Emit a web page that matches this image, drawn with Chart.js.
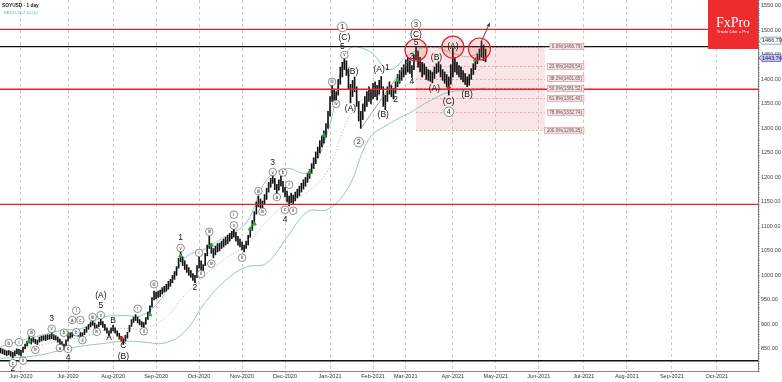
<!DOCTYPE html>
<html>
<head>
<meta charset="utf-8">
<script src="https://cdn.jsdelivr.net/npm/chart.js@4.4.1/dist/chart.umd.min.js"></script>
<style>
  html, body { margin: 0; padding: 0; background: #fff; }
  #chart { display: block; }
</style>
</head>
<body>
<canvas id="chart" width="782" height="382"></canvas>
<script>
// SOYUSD daily bars, late May 2020 - Apr 2021 (index = trading day)
const lows = [
  842, 840, 838, 836, 838, 835, 832, 836, 840, 838,
  836, 843, 850, 856, 862, 860, 864, 861, 859, 864,
  866, 868, 867, 869, 870, 871, 869, 868, 864, 858,
  853, 849, 856, 866, 872, 874, 878, 880, 876, 872,
  873, 879, 884, 890, 895, 898, 892, 889, 895, 899,
  894, 888, 882, 876, 882, 887, 882, 876, 870, 866,
  859, 866, 872, 885, 896, 904, 908, 903, 899, 895,
  893, 900, 910, 920, 935, 950, 952, 955, 957, 962,
  966, 968, 972, 978, 985, 992, 1000, 1015, 1028, 1020,
  1012, 1006, 1000, 996, 990, 985, 996, 1015, 1010, 1005,
  1020, 1040, 1055, 1045, 1036, 1042, 1048, 1050, 1055, 1058,
  1062, 1065, 1070, 1075, 1078, 1070, 1062, 1058, 1052, 1048,
  1055, 1062, 1078, 1092, 1108, 1125, 1140, 1138, 1136, 1145,
  1155, 1170, 1180, 1188, 1175, 1166, 1174, 1182, 1170, 1160,
  1150, 1142, 1148, 1146, 1152, 1158, 1162, 1170, 1176, 1182,
  1190, 1198, 1208, 1218, 1228, 1240, 1250, 1262, 1270, 1282,
  1300, 1325, 1355, 1350, 1355, 1368, 1390, 1405, 1420, 1408,
  1380, 1352, 1365, 1375, 1345, 1315, 1300, 1318, 1335, 1345,
  1355, 1350, 1360, 1365, 1358, 1370, 1380, 1345, 1338, 1355,
  1370, 1365, 1360, 1372, 1385, 1392, 1398, 1405, 1410, 1415,
  1412, 1404, 1420, 1440, 1425, 1415, 1405, 1410, 1400, 1398,
  1396, 1393, 1402, 1412, 1415, 1405, 1398, 1392, 1385, 1368,
  1390, 1405, 1415, 1410, 1405, 1400, 1395, 1390, 1385, 1388,
  1400, 1410, 1420, 1432, 1440, 1445, 1438, 1436
];
const highs = [
  852, 850, 848, 846, 847, 845, 843, 846, 850, 849,
  847, 854, 860, 866, 875, 871, 873, 870, 868, 874,
  876, 877, 878, 879, 879, 882, 879, 877, 874, 870,
  865, 860, 868, 880, 883, 884, 888, 891, 887, 884,
  883, 890, 895, 900, 905, 908, 903, 899, 905, 911,
  906, 900, 893, 887, 893, 898, 893, 887, 882, 876,
  871, 878, 884, 898, 910, 915, 920, 915, 910, 906,
  904, 914, 925, 938, 955, 968, 966, 968, 970, 975,
  978, 982, 988, 992, 1000, 1008, 1018, 1035, 1048, 1038,
  1030, 1022, 1016, 1010, 1004, 1000, 1020, 1038, 1030, 1022,
  1045, 1062, 1080, 1065, 1055, 1060, 1065, 1066, 1070, 1074,
  1078, 1082, 1086, 1090, 1095, 1088, 1080, 1074, 1068, 1062,
  1070, 1082, 1098, 1112, 1130, 1150, 1162, 1156, 1152, 1165,
  1178, 1190, 1198, 1206, 1198, 1186, 1195, 1202, 1192, 1180,
  1172, 1162, 1168, 1164, 1170, 1176, 1182, 1188, 1195, 1200,
  1208, 1216, 1228, 1240, 1252, 1262, 1275, 1285, 1295, 1310,
  1335, 1365, 1390, 1380, 1375, 1400, 1425, 1435, 1445, 1438,
  1420, 1390, 1398, 1405, 1385, 1355, 1335, 1350, 1365, 1375,
  1385, 1378, 1392, 1395, 1388, 1398, 1406, 1385, 1368, 1385,
  1395, 1388, 1382, 1395, 1410, 1418, 1424, 1430, 1440, 1445,
  1438, 1428, 1450, 1466.79, 1458, 1445, 1435, 1432, 1425, 1420,
  1418, 1415, 1425, 1432, 1436, 1430, 1420, 1415, 1410, 1405,
  1430, 1464, 1445, 1435, 1428, 1425, 1418, 1412, 1405, 1410,
  1422, 1432, 1442, 1452, 1462, 1478, 1470, 1462
];

// Bollinger band (20, 2.0) read at sample bars
const bbBars   = [0, 10, 20, 30, 40, 50, 60, 70, 80, 90, 100, 110, 120, 130, 140, 150, 160, 170, 180, 190, 200, 210, 220, 230, 237];
const bbUpper  = [855, 867, 878, 888, 892, 915, 918, 920, 962, 1035, 1055, 1080, 1107, 1195, 1218, 1210, 1295, 1460, 1458, 1420, 1452, 1467, 1455, 1447, 1473];
const bbMiddle = [843, 850, 858, 868, 874, 888, 892, 892, 912, 960, 1000, 1035, 1062, 1110, 1148, 1170, 1215, 1320, 1368, 1365, 1392, 1412, 1415, 1412, 1428];
const bbLower  = [831, 833, 838, 848, 856, 861, 866, 864, 862, 885, 945, 990, 1017, 1025, 1078, 1130, 1135, 1180, 1278, 1310, 1332, 1357, 1375, 1377, 1383];

// x axis: month labels and the bar where each month starts
const monthLabels = ['Jun-2020', 'Jul-2020', 'Aug-2020', 'Sep-2020', 'Oct-2020', 'Nov-2020', 'Dec-2020',
  'Jan-2021', 'Feb-2021', 'Mar-2021', 'Apr-2021', 'May-2021', 'Jun-2021', 'Jul-2021', 'Aug-2021', 'Sep-2021', 'Oct-2021'];
const monthBars = [10, 33, 55, 76, 97, 118, 139, 161, 182, 198, 221, 242, 263, 285, 306, 328, 350];

// horizontal levels
const redLevels = [1502, 1380, 1145];
const blackLevels = [1466.79, 826];

// fibonacci retracement
const fibNames  = ['0.0%', '23.6%', '38.2%', '50.0%', '61.8%', '78.6%', '100.0%'];
const fibValues = [1466.79, 1426.54, 1401.65, 1381.52, 1361.40, 1332.74, 1296.25];
const fibFrom = 203, fibTo = 266;

const lastPrice = 1443.74;

// buy / sell signal arrows [bar, price]
const buySignals  = [[14, 866], [33, 880], [73, 920], [88, 1040], [103, 1062], [122, 1095], [124, 1105], [151, 1210], [158, 1286], [194, 1398], [232, 1440]];
const sellSignals = [[59, 872], [219, 1382]];

// wave labels [bar, price, text, kind]  kind: n = plain, r = small circle, c = circled digit
const waveLabels = [
  [6, 809, '2', 'n'], [6, 821, 'c', 'r'], [11, 826, 'ii', 'r'], [4, 862, 'b', 'r'], [9, 864, 'i', 'r'],
  [15, 883, 'iii', 'r'], [17, 848, 'iv', 'r'], [25, 891, 'v', 'r'], [25, 911, '3', 'n'],
  [31, 883, 'b', 'r'], [29, 852, 'a', 'r'], [33, 850, 'c', 'r'], [33, 832, '4', 'n'],
  [35, 909, 'a', 'r'], [39, 909, 'c', 'r'], [37, 884, 'b', 'r'], [37, 928, 'i', 'r'],
  [40, 868, 'ii', 'r'], [45, 915, 'iii', 'r'], [47, 885, 'iv', 'r'], [49, 919, 'v', 'r'],
  [49, 939, '5', 'n'], [49, 958, '(A)', 'n'], [55, 907, 'B', 'n'], [53, 874, 'A', 'n'],
  [60, 856, 'C', 'n'], [60, 834, '(B)', 'n'], [67, 932, 'i', 'r'], [70, 886, 'ii', 'r'],
  [75, 982, 'iii', 'r'], [88, 1056, 'v', 'r'], [88, 1077, '1', 'n'], [97, 1046, 'i', 'r'],
  [98, 1003, 'ii', 'r'], [95, 975, '2', 'n'], [102, 1089, 'iii', 'r'], [103, 1024, 'iv', 'r'],
  [114, 1102, 'v', 'r'], [114, 1124, 'i', 'r'], [118, 1036, 'ii', 'r'], [126, 1172, 'iii', 'r'],
  [128, 1130, 'iv', 'r'], [133, 1211, 'v', 'r'], [133, 1230, '3', 'n'], [138, 1210, 'b', 'r'],
  [135, 1160, 'a', 'r'], [141, 1185, 'i', 'r'], [139, 1134, 'c', 'r'], [143, 1132, 'ii', 'r'],
  [139, 1113, '4', 'n'], [162, 1395, 'iii', 'r'], [164, 1350, 'iv', 'r'], [168, 1450, 'v', 'r'],
  [167, 1466, '5', 'n'], [168, 1486, '(C)', 'n'], [167, 1507, '1', 'c'], [172, 1415, '(B)', 'n'],
  [171, 1340, '(A)', 'n'], [175, 1272, '2', 'c'], [185, 1419, '(A)', 'n'], [189, 1424, '1', 'n'],
  [187, 1328, '(B)', 'n'], [193, 1358, '2', 'n'], [201, 1446, '3', 'n'], [201, 1395, '4', 'n'],
  [203, 1474, '5', 'n'], [203, 1491, '(C)', 'n'], [203, 1512, '3', 'c'], [213, 1444, '(B)', 'n'],
  [212, 1381, '(A)', 'n'], [221, 1467, '(A)', 'n'], [219, 1354, '(C)', 'n'], [219, 1334, '4', 'c'],
  [228, 1368, '(B)', 'n']
];

// red circles at the three tops [bar, price]
const topCircles = [[203, 1460], [221, 1466], [234, 1462]];
const trendLine = [[176, 1300], [201, 1448]];
const projection = [[235, 1478], [239, 1515]];

const bars = highs.map((h, i) => ({ x: i, y: [lows[i], h] }));
const toPoints = vals => bbBars.map((b, i) => ({ x: b, y: vals[i] }));

const overlay = {
  id: 'overlay',
  beforeDatasetsDraw(chart) {
    const { ctx, scales: { x, y } } = chart;
    const x0 = x.getPixelForValue(fibFrom), x1 = x.getPixelForValue(fibTo);
    const y0 = y.getPixelForValue(fibValues[0]);
    const y1 = y.getPixelForValue(fibValues[fibValues.length - 1]);
    ctx.save();
    ctx.fillStyle = 'rgba(238, 165, 165, 0.28)';
    ctx.fillRect(x0, y0, x1 - x0, y1 - y0);
    ctx.strokeStyle = 'rgba(215, 95, 95, 0.75)';
    ctx.lineWidth = 0.6;
    ctx.setLineDash([2, 2]);
    fibValues.forEach(v => {
      const py = Math.round(y.getPixelForValue(v)) + 0.5;
      ctx.beginPath();
      ctx.moveTo(x0, py);
      ctx.lineTo(x1, py);
      ctx.stroke();
    });
    ctx.restore();
  },
  afterDatasetsDraw(chart) {
    const { ctx, chartArea: area, scales: { x, y } } = chart;
    const px = b => x.getPixelForValue(b);
    const py = v => y.getPixelForValue(v);
    ctx.save();

    // horizontal levels
    ctx.lineWidth = 1.4;
    ctx.strokeStyle = '#e8202a';
    redLevels.forEach(v => {
      ctx.beginPath(); ctx.moveTo(area.left, py(v)); ctx.lineTo(area.right, py(v)); ctx.stroke();
    });
    ctx.strokeStyle = '#111';
    blackLevels.forEach(v => {
      ctx.beginPath(); ctx.moveTo(area.left, py(v)); ctx.lineTo(area.right, py(v)); ctx.stroke();
    });

    // trend line and projection arrow
    ctx.lineWidth = 0.7;
    ctx.strokeStyle = '#777';
    ctx.beginPath();
    ctx.moveTo(px(trendLine[0][0]), py(trendLine[0][1]));
    ctx.lineTo(px(trendLine[1][0]), py(trendLine[1][1]));
    ctx.stroke();
    const ax0 = px(projection[0][0]), ay0 = py(projection[0][1]);
    const ax1 = px(projection[1][0]), ay1 = py(projection[1][1]);
    ctx.strokeStyle = '#333';
    ctx.lineWidth = 0.9;
    ctx.beginPath(); ctx.moveTo(ax0, ay0); ctx.lineTo(ax1, ay1); ctx.stroke();
    const ang = Math.atan2(ay1 - ay0, ax1 - ax0);
    ctx.fillStyle = '#333';
    ctx.beginPath();
    ctx.moveTo(ax1, ay1);
    ctx.lineTo(ax1 - 4 * Math.cos(ang - 0.45), ay1 - 4 * Math.sin(ang - 0.45));
    ctx.lineTo(ax1 - 4 * Math.cos(ang + 0.45), ay1 - 4 * Math.sin(ang + 0.45));
    ctx.closePath(); ctx.fill();

    // red circles
    ctx.lineWidth = 1.2;
    ctx.strokeStyle = '#e8202a';
    ctx.fillStyle = 'rgba(240, 80, 80, 0.18)';
    topCircles.forEach(([b, v]) => {
      ctx.beginPath(); ctx.arc(px(b), py(v), 11, 0, Math.PI * 2); ctx.fill(); ctx.stroke();
    });

    // wave labels
    ctx.textAlign = 'center';
    ctx.textBaseline = 'middle';
    waveLabels.forEach(([b, v, t, kind]) => {
      const lx = px(b), ly = py(v);
      if (kind === 'n') {
        ctx.fillStyle = '#111';
        ctx.font = '8.5px "Liberation Sans", Arial, sans-serif';
        ctx.fillText(t, lx, ly);
      } else {
        const r = kind === 'c' ? 4.8 : 3.8;
        ctx.beginPath(); ctx.arc(lx, ly, r, 0, Math.PI * 2);
        ctx.fillStyle = '#fff'; ctx.fill();
        ctx.lineWidth = 0.6; ctx.strokeStyle = '#444'; ctx.stroke();
        ctx.fillStyle = '#222';
        ctx.font = kind === 'c' ? '7px "Liberation Sans", Arial, sans-serif' : '4.5px "Liberation Sans", Arial, sans-serif';
        ctx.fillText(t, lx, ly + 0.3);
      }
    });

    // fibonacci labels
    ctx.font = '4.6px "Liberation Sans", Arial, sans-serif';
    ctx.textAlign = 'right';
    const rightEdge = px(fibTo) + 39;
    fibValues.forEach((v, i) => {
      const txt = fibNames[i] + '(' + v.toFixed(2) + ')';
      const w = ctx.measureText(txt).width + 4;
      const ly = py(v);
      ctx.fillStyle = '#fbe3e3';
      ctx.strokeStyle = '#dc8a8a';
      ctx.lineWidth = 0.6;
      ctx.fillRect(rightEdge - w, ly - 3, w, 6);
      ctx.strokeRect(rightEdge - w, ly - 3, w, 6);
      ctx.fillStyle = '#555';
      ctx.fillText(txt, rightEdge - 2, ly + 0.3);
    });

    // price boxes on the axis
    ctx.textAlign = 'left';
    ctx.font = '5.5px "Liberation Sans", Arial, sans-serif';
    const boxes = [[fibValues[0], '#ffffff', '#5d7fa3', -6], [lastPrice, '#c9c6f2', '#4a4ac8', 0]];
    boxes.forEach(([v, fill, stroke, shift]) => {
      const by = py(v) + shift;
      ctx.fillStyle = fill; ctx.strokeStyle = stroke; ctx.lineWidth = 0.7;
      ctx.beginPath();
      ctx.moveTo(area.right + 1, by);
      ctx.lineTo(area.right + 4, by - 3.5);
      ctx.lineTo(781, by - 3.5);
      ctx.lineTo(781, by + 3.5);
      ctx.lineTo(area.right + 4, by + 3.5);
      ctx.closePath(); ctx.fill(); ctx.stroke();
      ctx.fillStyle = '#222';
      ctx.fillText(v.toFixed(2), area.right + 4, by + 0.3);
    });

    // title
    ctx.textBaseline = 'alphabetic';
    ctx.fillStyle = '#222';
    ctx.font = 'bold 4.8px "Liberation Sans", Arial, sans-serif';
    ctx.fillText('SOYUSD - 1 day', 2, 7);
    ctx.fillStyle = '#6aa9b3';
    ctx.font = '4.3px "Liberation Sans", Arial, sans-serif';
    ctx.fillText('BB(20,20,2.0,0,0)', 4, 14);

    // FxPro badge
    ctx.fillStyle = '#ee2b2f';
    ctx.fillRect(708, 0, area.right - 708, 49);
    ctx.fillStyle = '#fff';
    ctx.textAlign = 'center';
    ctx.font = '14px "Liberation Serif", "DejaVu Serif", serif';
    ctx.fillText('FxPro', 733, 27);
    ctx.font = '4.4px "Liberation Sans", Arial, sans-serif';
    ctx.fillText('Trade Like a Pro', 733, 33);
    ctx.restore();
  }
};

new Chart(document.getElementById('chart'), {
  type: 'bar',
  data: {
    datasets: [
      {
        type: 'scatter',
        data: buySignals.map(([b, v]) => ({ x: b, y: v })),
        pointStyle: 'triangle',
        pointRadius: 2.2,
        backgroundColor: '#22a83a',
        borderColor: '#22a83a',
        order: 0
      },
      {
        type: 'scatter',
        data: sellSignals.map(([b, v]) => ({ x: b, y: v })),
        pointStyle: 'triangle',
        rotation: 180,
        pointRadius: 2.2,
        backgroundColor: '#d42020',
        borderColor: '#d42020',
        order: 0
      },
      {
        data: bars,
        backgroundColor: '#111',
        borderWidth: 0,
        barThickness: 1,
        grouped: false,
        order: 1
      },
      {
        type: 'line',
        data: toPoints(bbUpper),
        borderColor: '#8fc8c6',
        borderWidth: 1,
        pointRadius: 0,
        tension: 0.4,
        order: 2
      },
      {
        type: 'line',
        data: toPoints(bbMiddle),
        borderColor: '#9a9a9a',
        borderWidth: 0.8,
        borderDash: [1, 2],
        pointRadius: 0,
        tension: 0.4,
        order: 2
      },
      {
        type: 'line',
        data: toPoints(bbLower),
        borderColor: '#8fc8c6',
        borderWidth: 1,
        pointRadius: 0,
        tension: 0.4,
        order: 2
      }
    ]
  },
  options: {
    responsive: false,
    animation: false,
    layout: { padding: 0, autoPadding: false },
    plugins: {
      legend: { display: false },
      tooltip: { enabled: false }
    },
    scales: {
      x: {
        type: 'linear',
        offset: false,
        min: -0.26,
        max: 370.1,
        afterFit: s => { s.height = 11; s.paddingLeft = 0; s.paddingRight = 0; },
        afterBuildTicks: s => { s.ticks = monthBars.map(v => ({ value: v })); },
        grid: { offset: false, color: '#b4b4b4', lineWidth: 0.7, tickLength: 2, tickColor: '#888' },
        border: { display: true, color: '#888', dash: [3, 3] },
        ticks: {
          autoSkip: false,
          maxRotation: 0,
          padding: 0,
          color: '#333',
          font: { family: 'Liberation Sans', size: 5.5 },
          callback: v => monthLabels[monthBars.indexOf(v)]
        }
      },
      y: {
        position: 'right',
        min: 805,
        max: 1562,
        afterFit: s => { s.width = 24; s.paddingTop = 0; s.paddingBottom = 0; },
        grid: { drawOnChartArea: false, tickLength: 2, color: '#777', lineWidth: 0.5 },
        border: { display: true, color: '#777' },
        ticks: {
          stepSize: 5,
          autoSkip: false,
          padding: 1,
          color: '#444',
          font: { family: 'Liberation Sans', size: 5.5 },
          callback: v => {
            const r = Math.round(v);
            return (Math.abs(v - r) < 1e-6 && r % 50 === 0) ? r.toFixed(2) : '';
          }
        }
      }
    }
  },
  plugins: [overlay]
});
</script>
</body>
</html>
